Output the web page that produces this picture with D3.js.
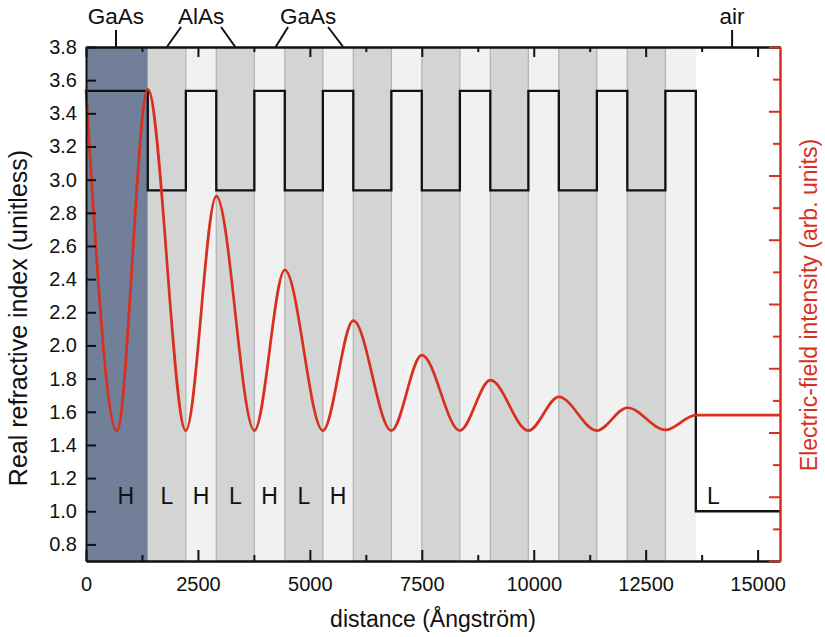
<!DOCTYPE html>
<html>
<head>
<meta charset="utf-8">
<script src="https://cdn.jsdelivr.net/npm/d3@7"></script>
<style>
  body { margin: 0; background: #fff; }
  text { font-family: "Liberation Sans", Arial, Helvetica, sans-serif; fill: #111; }
</style>
</head>
<body>
<script>
// layer boundaries (Angstrom) and what sits between them
var layerEdges = [0, 1380, 2230, 2910, 3760, 4440, 5290, 5970, 6820, 7500, 8350,
                  9030, 9880, 10560, 11410, 12090, 12940, 13620, 15500];
var layerKind = ["sub", "L", "H", "L", "H", "L", "H", "L", "H",
                 "L", "H", "L", "H", "L", "H", "L", "H", "air"];
var layerIndex = { sub: 3.535, H: 3.535, L: 2.935, air: 1.0 };

// electric-field intensity, extrema (arb. units, right axis 0-16)
var fieldX = [0, 690, 1380, 2230, 2910, 3760, 4440, 5290, 5970, 6820, 7500,
              8350, 9030, 9880, 10560, 11410, 12090, 12940, 13620, 15500];
var fieldV = [14.68, 4.05, 14.68, 4.06, 11.36, 4.06, 9.06, 4.06, 7.48, 4.06, 6.41,
              4.06, 5.63, 4.06, 5.11, 4.06, 4.77, 4.08, 4.54, 4.54];

var xMajor = [0, 2500, 5000, 7500, 10000, 12500, 15000];
var xMinor = [1250, 3750, 6250, 8750, 11250, 13750];
var yTicks = [0.8, 1.0, 1.2, 1.4, 1.6, 1.8, 2.0, 2.2, 2.4, 2.6, 2.8, 3.0, 3.2, 3.4, 3.6, 3.8];
var eTicks = [0, 1, 2, 3, 4, 5, 6, 7, 8, 9, 10, 11, 12, 13, 14, 15, 16];

// material names above the frame, with the layers they point at
var matNames = ["GaAs", "AlAs", "GaAs", "air"];
var matAt = [670, 2570, 4960, 14430];
var matPoint = [[670], [1805, 3335], [4235, 5745], [14430]];

var hlText = ["H", "L", "H", "L", "H", "L", "H", "L"];
var hlAt = [890, 1805, 2570, 3335, 4100, 4865, 5630, 14010];

var W = 825, H = 637;
var padL = 86, padR = 780, padT = 47, padB = 561;
var red = "#d8301f";
var fill = { sub: "#717f98", L: "#d3d5d5", H: "#f1f1f1" };

var svg = d3.select("body").append("svg")
    .attr("width", W)
    .attr("height", H);

var x = d3.scaleLinear().domain([0, 15500]).range([padL, padR]);
var y = d3.scaleLinear().domain([0.7, 3.8]).range([padB, padT]);
var yE = d3.scaleLinear().domain([0, 16]).range([padB, padT]);

// layer shading
var layers = layerKind.map(function(k, i) {
    return { kind: k, x0: layerEdges[i], x1: layerEdges[i + 1] };
});

svg.selectAll(".layer")
    .data(layers.filter(function(d) { return d.kind != "air"; }))
    .enter().append("rect")
    .attr("class", "layer")
    .attr("x", function(d) { return x(d.x0); })
    .attr("width", function(d) { return x(d.x1) - x(d.x0); })
    .attr("y", padT)
    .attr("height", padB - padT)
    .attr("fill", function(d) { return fill[d.kind]; });

svg.selectAll(".sep")
    .data(layerEdges.slice(2, 17))
    .enter().append("line")
    .attr("class", "sep")
    .attr("x1", function(d) { return x(d); })
    .attr("x2", function(d) { return x(d); })
    .attr("y1", padT)
    .attr("y2", padB)
    .attr("stroke", "#b3b5b5")
    .attr("stroke-width", 1.3);

// refractive index step profile
var steps = layers.map(function(d) { return [d.x0, layerIndex[d.kind]]; });
steps.push([15500, layerIndex.air]);

svg.append("path")
    .datum(steps)
    .attr("fill", "none")
    .attr("stroke", "#111")
    .attr("stroke-width", 2.3)
    .attr("d", d3.line()
        .x(function(d) { return x(d[0]); })
        .y(function(d) { return y(d[1]); })
        .curve(d3.curveStepAfter));

// field intensity
var field = fieldX.map(function(v, i) { return [v, fieldV[i]]; });

svg.append("path")
    .datum(field)
    .attr("fill", "none")
    .attr("stroke", red)
    .attr("stroke-width", 2.7)
    .attr("d", d3.line()
        .x(function(d) { return x(d[0]); })
        .y(function(d) { return yE(d[1]); })
        .curve(d3.curveMonotoneX));

// H / L letters
svg.selectAll(".hl")
    .data(hlText)
    .enter().append("text")
    .attr("class", "hl")
    .attr("x", function(d, i) { return x(hlAt[i]); })
    .attr("y", 504)
    .attr("text-anchor", "middle")
    .style("font-size", "23px")
    .text(function(d) { return d; });

// axes
function styleAxis(g, colour) {
    g.selectAll(".domain").attr("stroke", colour).attr("stroke-width", 2);
    g.selectAll(".tick line").attr("stroke", colour).attr("stroke-width", 2);
    g.selectAll(".tick text").style("font-size", "20px").attr("fill", "#111");
}

svg.append("g")
    .attr("transform", "translate(0," + padB + ")")
    .call(d3.axisBottom(x).tickValues(xMinor).tickSizeInner(-6).tickSizeOuter(0).tickFormat(""))
    .call(styleAxis, "#111");

svg.append("g")
    .attr("transform", "translate(0," + padB + ")")
    .call(d3.axisBottom(x).tickValues(xMajor).tickSizeInner(-11).tickSizeOuter(0)
        .tickPadding(16).tickFormat(d3.format("d")))
    .call(styleAxis, "#111");

svg.append("g")
    .attr("transform", "translate(0," + padT + ")")
    .call(d3.axisTop(x).tickValues(xMinor).tickSizeInner(-5).tickSizeOuter(0).tickFormat(""))
    .call(styleAxis, "#111");

svg.append("g")
    .attr("transform", "translate(0," + padT + ")")
    .call(d3.axisTop(x).tickValues(xMajor).tickSizeInner(-10).tickSizeOuter(0).tickFormat(""))
    .call(styleAxis, "#111");

svg.append("g")
    .attr("transform", "translate(" + padL + ",0)")
    .call(d3.axisLeft(y).tickValues(yTicks).tickSizeInner(-10).tickSizeOuter(0)
        .tickPadding(9).tickFormat(d3.format(".1f")))
    .call(styleAxis, "#111");

svg.append("g")
    .attr("transform", "translate(" + padR + ",0)")
    .call(d3.axisRight(yE).tickValues(eTicks.filter(function(d) { return d % 2 == 1; }))
        .tickSizeInner(-7).tickSizeOuter(0).tickFormat(""))
    .call(styleAxis, red);

svg.append("g")
    .attr("transform", "translate(" + padR + ",0)")
    .call(d3.axisRight(yE).tickValues(eTicks.filter(function(d) { return d % 2 == 0; }))
        .tickSizeInner(-11).tickSizeOuter(0).tickFormat(""))
    .call(styleAxis, red);

// material names and their pointers
matNames.forEach(function(name, i) {
    var cx = x(matAt[i]);
    svg.append("text")
        .attr("x", cx)
        .attr("y", 24)
        .attr("text-anchor", "middle")
        .style("font-size", "22.5px")
        .text(name);
    matPoint[i].forEach(function(p) {
        var tx = x(p);
        var single = matPoint[i].length == 1;
        svg.append("line")
            .attr("x1", single ? tx : cx + (tx < cx ? -20 : 20))
            .attr("y1", single ? 30 : 27)
            .attr("x2", tx)
            .attr("y2", padT)
            .attr("stroke", "#111")
            .attr("stroke-width", 2);
    });
});

// axis titles
svg.append("text")
    .attr("x", (padL + padR) / 2)
    .attr("y", 627)
    .attr("text-anchor", "middle")
    .style("font-size", "23px")
    .text("distance (Ångström)");

svg.append("text")
    .attr("transform", "translate(27,318) rotate(-90)")
    .attr("text-anchor", "middle")
    .style("font-size", "25px")
    .text("Real refractive index (unitless)");

svg.append("text")
    .attr("transform", "translate(817,305) rotate(-90)")
    .attr("text-anchor", "middle")
    .style("font-size", "23px")
    .style("fill", red)
    .text("Electric-field intensity (arb. units)");
</script>
</body>
</html>
